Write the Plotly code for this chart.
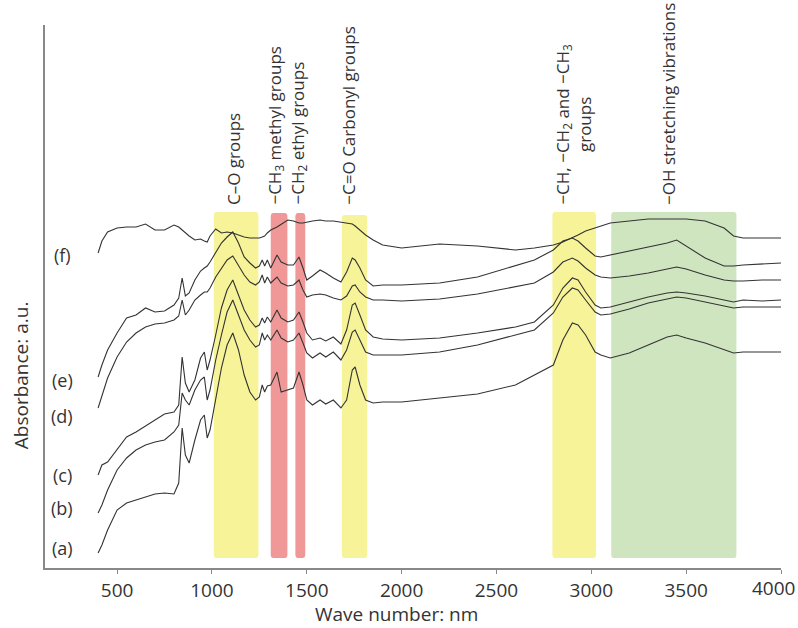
import plotly.graph_objects as go

# Wave numbers (shared grid for all spectra)
wave = [400, 420, 450, 500, 550, 600, 650, 700, 750, 800,
        825, 843, 860, 880, 910, 940, 960, 975, 990, 1020,
        1050, 1080, 1110, 1140, 1170, 1200, 1230, 1250, 1265, 1278,
        1292, 1310, 1343, 1365, 1400, 1430, 1459, 1480, 1500, 1530,
        1570, 1600, 1640, 1680, 1710, 1740, 1755, 1780, 1810, 1850,
        1900, 2000, 2200, 2400, 2600, 2700, 2800, 2850, 2900, 2930,
        2970, 3020, 3050, 3100, 3200, 3300, 3400, 3450, 3500, 3600,
        3700, 3750, 3800, 3900, 4000]

spec_f = [3.15, 3.27, 3.36, 3.40, 3.41, 3.41, 3.44, 3.38, 3.38, 3.43,
          3.41, 3.38, 3.35, 3.32, 3.28, 3.29, 3.27, 3.26, 3.32, 3.39,
          3.35, 3.36, 3.35, 3.33, 3.31, 3.30, 3.30, 3.30, 3.31, 3.32,
          3.35, 3.38, 3.41, 3.44, 3.48, 3.47, 3.45, 3.45, 3.46, 3.47,
          3.48, 3.47, 3.47, 3.46, 3.45, 3.44, 3.42, 3.38, 3.33, 3.28,
          3.23, 3.20, 3.24, 3.22, 3.18, 3.20, 3.23, 3.26, 3.30, 3.33,
          3.37, 3.40, 3.42, 3.45, 3.47, 3.49, 3.49, 3.49, 3.49, 3.47,
          3.40, 3.32, 3.30, 3.30, 3.30]

spec_e = [1.91, 2.03, 2.18, 2.35, 2.50, 2.53, 2.60, 2.56, 2.57, 2.63,
          2.70, 2.90, 2.72, 2.75, 2.88, 2.97, 3.00, 3.02, 3.06, 3.16,
          3.25, 3.31, 3.36, 3.25, 3.11, 3.05, 3.00, 3.02, 3.08, 3.02,
          3.08, 3.00, 3.13, 3.06, 3.03, 3.03, 3.11, 3.00, 2.88, 2.92,
          2.98, 2.95, 2.90, 2.86, 2.96, 3.10, 3.08, 3.00, 2.88, 2.82,
          2.83, 2.83, 2.85, 2.91, 3.02, 3.08, 3.18, 3.27, 3.30, 3.27,
          3.20, 3.12, 3.11, 3.13, 3.17, 3.21, 3.25, 3.28, 3.22, 3.10,
          3.02, 3.02, 3.03, 3.04, 3.05]

spec_d = [1.60, 1.73, 1.90, 2.11, 2.26, 2.35, 2.41, 2.44, 2.45, 2.48,
          2.52, 2.68, 2.53, 2.58, 2.68, 2.73, 2.76, 2.76, 2.80, 2.91,
          3.00, 3.08, 3.12, 3.03, 2.93, 2.86, 2.83, 2.86, 2.93, 2.85,
          2.91, 2.85, 2.91, 2.85, 2.82, 2.83, 2.88, 2.78, 2.71, 2.73,
          2.74, 2.73, 2.70, 2.68, 2.72, 2.82, 2.83, 2.76, 2.71, 2.68,
          2.68, 2.67, 2.69, 2.74, 2.81, 2.85, 2.96, 3.06, 3.10, 3.07,
          3.00, 2.93, 2.91, 2.90, 2.92, 2.95, 2.99, 3.01, 2.99, 2.93,
          2.88, 2.87, 2.87, 2.88, 2.88]

spec_c = [0.93, 1.03, 1.06, 1.18, 1.31, 1.36, 1.42, 1.48, 1.54, 1.56,
          1.63, 2.11, 1.85, 1.76, 1.88, 2.10, 2.16, 1.98, 2.08, 2.33,
          2.60, 2.78, 2.88, 2.73, 2.58, 2.48, 2.41, 2.43, 2.50, 2.45,
          2.51, 2.46, 2.58, 2.50, 2.46, 2.48, 2.56, 2.46, 2.35, 2.28,
          2.30, 2.27, 2.31, 2.24, 2.38, 2.63, 2.65, 2.53, 2.38, 2.31,
          2.29, 2.28, 2.30, 2.35, 2.41, 2.46, 2.63, 2.80, 2.90, 2.88,
          2.76, 2.63, 2.60, 2.61, 2.66, 2.71, 2.75, 2.76, 2.75, 2.72,
          2.68, 2.66, 2.68, 2.67, 2.68]

spec_b = [0.55, 0.63, 0.78, 0.98, 1.10, 1.18, 1.23, 1.26, 1.28, 1.36,
          1.43, 1.75, 1.68, 1.63, 1.78, 1.88, 1.91, 1.68, 1.78, 2.08,
          2.33, 2.56, 2.68, 2.53, 2.38, 2.28, 2.21, 2.23, 2.35, 2.28,
          2.33, 2.28, 2.38, 2.30, 2.26, 2.28, 2.35, 2.25, 2.15, 2.10,
          2.15, 2.11, 2.16, 2.08, 2.18, 2.36, 2.38, 2.28, 2.16, 2.13,
          2.13, 2.13, 2.16, 2.23, 2.33, 2.38, 2.55, 2.71, 2.80, 2.78,
          2.68, 2.56, 2.53, 2.54, 2.59, 2.65, 2.69, 2.71, 2.70, 2.66,
          2.62, 2.60, 2.61, 2.61, 2.61]

spec_a = [0.15, 0.23, 0.38, 0.58, 0.65, 0.68, 0.71, 0.74, 0.75, 0.74,
          0.85, 1.40, 1.13, 1.05, 1.28, 1.48, 1.53, 1.30, 1.38, 1.68,
          2.00, 2.23, 2.35, 2.18, 1.93, 1.76, 1.68, 1.71, 1.83, 1.76,
          1.82, 1.83, 1.96, 1.76, 1.78, 1.80, 1.96, 1.83, 1.68, 1.63,
          1.68, 1.64, 1.68, 1.60, 1.68, 1.98, 2.01, 1.83, 1.68, 1.65,
          1.66, 1.66, 1.70, 1.74, 1.83, 1.93, 2.03, 2.28, 2.45, 2.43,
          2.33, 2.16, 2.13, 2.10, 2.15, 2.23, 2.31, 2.33, 2.30, 2.25,
          2.18, 2.15, 2.16, 2.16, 2.16]

spectra = [spec_a, spec_b, spec_c, spec_d, spec_e, spec_f]
sample_labels = ["(a)", "(b)", "(c)", "(d)", "(e)", "(f)"]
label_y = [0.20, 0.60, 0.93, 1.52, 1.88, 3.13]

# Highlighted bands
band_start = [1010, 1310, 1440, 1685, 2795, 3105]
band_end = [1245, 1398, 1492, 1818, 3025, 3765]
band_top = [3.56, 3.55, 3.55, 3.53, 3.56, 3.56]
band_color = ["rgb(247,243,152)", "rgb(240,152,152)", "rgb(240,152,152)",
              "rgb(247,243,152)", "rgb(247,243,152)", "rgb(207,229,192)"]
band_bottom = 0.10

group_text = ["C–O groups", "−CH<sub>3</sub> methyl groups", "−CH<sub>2</sub> ethyl groups",
              "−C=O Carbonyl groups", "−CH, −CH<sub>2</sub> and −CH<sub>3</sub><br>groups",
              "−OH stretching vibrations"]
group_x = [1111, 1333, 1454, 1718, 2904, 3404]
group_y = 3.61

x_ticks = [500, 1000, 1500, 2000, 2500, 3000, 3500, 4000]
x_tick_text = ["500", "1000", "1500", "2000", "2500", "3000", "3500", ""]
last_tick_label = "4000"

fig = go.Figure()

for s in spectra:
    fig.add_trace(go.Scatter(x=wave, y=s, mode="lines",
                             line=dict(color="#333333", width=1.1),
                             showlegend=False, hoverinfo="skip"))


def rounded_rect(x0, x1, y0, y1, rx=14, ry=0.035):
    return (f"M {x0+rx},{y0} L {x1-rx},{y0} Q {x1},{y0} {x1},{y0+ry} "
            f"L {x1},{y1-ry} Q {x1},{y1} {x1-rx},{y1} L {x0+rx},{y1} "
            f"Q {x0},{y1} {x0},{y1-ry} L {x0},{y0+ry} Q {x0},{y0} {x0+rx},{y0} Z")


for x0, x1, top, col in zip(band_start, band_end, band_top, band_color):
    fig.add_shape(type="path", path=rounded_rect(x0, x1, band_bottom, top),
                  xref="x", yref="y", fillcolor=col, line=dict(width=0),
                  layer="below")

annotations = []
for t, gx in zip(group_text, group_x):
    annotations.append(dict(x=gx, y=group_y, xref="x", yref="y", text=t,
                            textangle=-90, showarrow=False, xanchor="center",
                            yanchor="bottom", align="center",
                            font=dict(size=17, color="#333")))
for t, ly in zip(sample_labels, label_y):
    annotations.append(dict(x=210, y=ly, xref="x", yref="y", text=t,
                            showarrow=False, xanchor="center", yanchor="middle",
                            font=dict(size=18, color="#333")))
annotations.append(dict(x=-0.0326, y=0.355, xref="paper", yref="paper",
                        text="Absorbance: a.u.", textangle=-90, showarrow=False,
                        xanchor="center", yanchor="middle",
                        font=dict(size=19, color="#333")))
annotations.append(dict(x=0.477, y=-0.085, xref="paper", yref="paper",
                        text="Wave number: nm", showarrow=False,
                        xanchor="center", yanchor="middle",
                        font=dict(size=19, color="#333")))
annotations.append(dict(x=x_ticks[-1], y=0, xref="x", yref="paper",
                        text=last_tick_label, showarrow=False,
                        xanchor="right", yanchor="middle", xshift=16, yshift=-20,
                        font=dict(size=19, color="#333")))

fig.update_layout(
    width=798, height=628,
    margin=dict(l=45, r=17, t=25, b=60, autoexpand=False),
    paper_bgcolor="white", plot_bgcolor="white",
    font=dict(family="Open Sans", color="#333"),
    annotations=annotations,
    xaxis=dict(range=[120, 4000], tickvals=x_ticks, ticktext=x_tick_text,
               ticks="outside", ticklen=4, tickcolor="#888", showline=True,
               linecolor="#888", linewidth=1.5, showgrid=False, zeroline=False,
               automargin=False, tickfont=dict(size=19, color="#333")),
    yaxis=dict(range=[0, 5.43], showticklabels=False, ticks="",
               showline=True, linecolor="#888", linewidth=1.5,
               showgrid=False, zeroline=False, automargin=False),
)

fig.write_html("out.html")
